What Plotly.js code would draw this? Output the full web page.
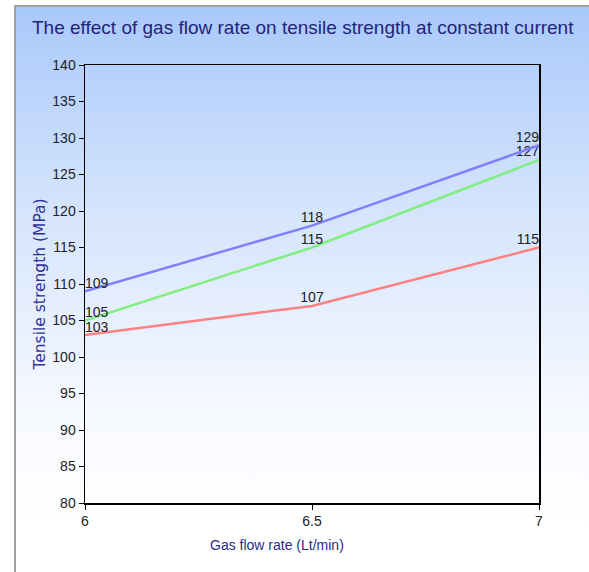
<!DOCTYPE html>
<html>
<head>
<meta charset="utf-8">
<script src="https://cdn.plot.ly/plotly-3.0.1.min.js"></script>
<style>
  html, body { margin: 0; padding: 0; background: #ffffff; }
  #bg {
    position: absolute; left: 14px; top: 5px; width: 575px; height: 567px;
    border-left: 2px solid #a0a0a0; border-top: 2px solid #a0a0a0;
    box-sizing: border-box;
    background: linear-gradient(to bottom, #a9c9fb 0px, #d4e4fc 200px, #f6f9ff 400px, #ffffff 520px);
  }
  #chart { position: absolute; left: 0; top: 0; width: 589px; height: 572px; }
</style>
</head>
<body>
<div id="bg"></div>
<div id="chart"></div>
<script>
const gasFlowRate = [6, 6.5, 7];
const seriesBlue = [109, 118, 129];
const seriesGreen = [105, 115, 127];
const seriesRed = [103, 107, 115];
const yTickValues = [80, 85, 90, 95, 100, 105, 110, 115, 120, 125, 130, 135, 140];

const labelPos = ['top right', 'top center', 'top left'];

function series(y, color) {
  return {
    x: gasFlowRate, y: y, type: 'scatter', mode: 'lines+text',
    line: { color: color, width: 2.5 },
    text: y.map(String), textposition: labelPos,
    textfont: { family: 'Liberation Sans, Arial, sans-serif', size: 14, color: '#222222' },
    cliponaxis: false, hoverinfo: 'none', showlegend: false
  };
}

const data = [
  series(seriesRed, 'rgb(255,128,128)'),
  series(seriesGreen, 'rgb(128,238,128)'),
  series(seriesBlue, 'rgb(128,128,255)')
];

const layout = {
  width: 589, height: 572,
  paper_bgcolor: 'rgba(0,0,0,0)', plot_bgcolor: 'rgba(0,0,0,0)',
  margin: { l: 85, r: 50, t: 65, b: 69 },
  title: {
    text: 'The effect of gas flow rate on tensile strength at constant current',
    font: { family: 'Liberation Sans, Arial, sans-serif', size: 19, color: '#23237a' },
    x: 0.514, xanchor: 'center', y: 0.953, yanchor: 'middle'
  },
  xaxis: {
    range: [6, 7], tickvals: gasFlowRate, ticktext: ['6', '6.5', '7'],
    ticks: 'outside', ticklen: 5, tickcolor: '#000', showline: true, linecolor: '#000', linewidth: 1.5,
    mirror: true, showgrid: false, zeroline: false,
    tickfont: { family: 'Liberation Sans, Arial, sans-serif', size: 14, color: '#222' }
  },
  yaxis: {
    range: [80, 140], tickvals: yTickValues,
    ticks: 'outside', ticklen: 5, tickcolor: '#000', showline: true, linecolor: '#000', linewidth: 1.5,
    mirror: true, showgrid: false, zeroline: false,
    tickfont: { family: 'Liberation Sans, Arial, sans-serif', size: 14, color: '#222' },
    title: { text: 'Tensile strength (MPa)', font: { family: 'DejaVu Sans, sans-serif', size: 15.5, color: '#30309a' }, standoff: 3 }
  },
  annotations: [{
    text: 'Gas flow rate (Lt/min)', xref: 'paper', yref: 'paper',
    x: (277 - 85) / 454, xanchor: 'center', y: -0.095, yanchor: 'middle', showarrow: false,
    font: { family: 'Liberation Sans, Arial, sans-serif', size: 14, color: '#2a2a8a' }
  }]
};

Plotly.newPlot('chart', data, layout, { displayModeBar: false, staticPlot: true });
</script>
</body>
</html>
